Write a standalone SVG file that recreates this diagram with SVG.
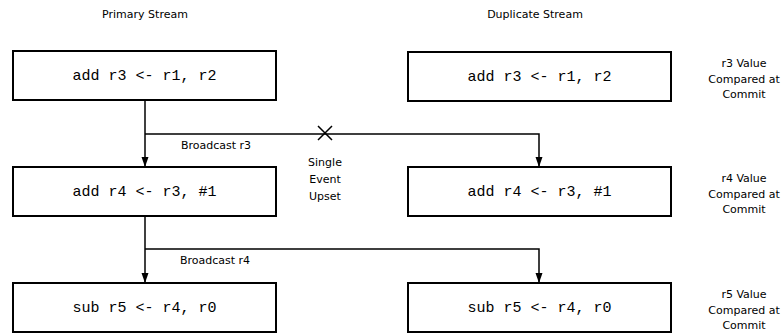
<svg xmlns="http://www.w3.org/2000/svg" width="784" height="334" viewBox="0 0 784 334">
  <style>
    .box { fill: #fff; stroke: #000; stroke-width: 2; }
    .code { font-family: "Liberation Mono", "Courier New", monospace; font-size: 15px; fill: #000; text-anchor: middle; }
    .lbl { font-family: "DejaVu Sans", "Liberation Sans", sans-serif; font-size: 11px; fill: #000; text-anchor: middle; }
    .wire { fill: none; stroke: #000; stroke-width: 1.5; }
  </style>
  <defs>
    <marker id="arrow" viewBox="0 0 10 10" refX="10" refY="5" markerWidth="10" markerHeight="10" markerUnits="userSpaceOnUse" orient="auto">
      <path d="M0,1.5 L10,5 L0,8.5 Z" fill="#000"/>
    </marker>
  </defs>

  <text class="lbl" x="145" y="18">Primary Stream</text>
  <text class="lbl" x="535" y="18">Duplicate Stream</text>

  <g id="p1">
    <rect class="box" x="13" y="51" width="263" height="49"/>
    <text class="code" x="144.5" y="80">add r3 &lt;- r1, r2</text>
  </g>
  <g id="p2">
    <rect class="box" x="13" y="167" width="263" height="49"/>
    <text class="code" x="144.5" y="196">add r4 &lt;- r3, #1</text>
  </g>
  <g id="p3">
    <rect class="box" x="13" y="283" width="263" height="49"/>
    <text class="code" x="144.5" y="312">sub r5 &lt;- r4, r0</text>
  </g>
  <g id="d1">
    <rect class="box" x="408" y="52" width="263" height="49"/>
    <text class="code" x="539.5" y="81">add r3 &lt;- r1, r2</text>
  </g>
  <g id="d2">
    <rect class="box" x="408" y="167" width="263" height="49"/>
    <text class="code" x="539.5" y="196">add r4 &lt;- r3, #1</text>
  </g>
  <g id="d3">
    <rect class="box" x="408" y="283" width="263" height="49"/>
    <text class="code" x="539.5" y="312">sub r5 &lt;- r4, r0</text>
  </g>

  <g id="cmp1">
    <text class="lbl" x="744" y="67">r3 Value</text>
    <text class="lbl" x="744" y="83">Compared at</text>
    <text class="lbl" x="744" y="98">Commit</text>
  </g>
  <g id="cmp2">
    <text class="lbl" x="744" y="182">r4 Value</text>
    <text class="lbl" x="744" y="198">Compared at</text>
    <text class="lbl" x="744" y="213">Commit</text>
  </g>
  <g id="cmp3">
    <text class="lbl" x="744" y="298">r5 Value</text>
    <text class="lbl" x="744" y="314">Compared at</text>
    <text class="lbl" x="744" y="329">Commit</text>
  </g>

  <g id="connectors">
    <path class="wire" d="M145,100 V167" marker-end="url(#arrow)"/>
    <path class="wire" d="M145,134 H539 V167" marker-end="url(#arrow)"/>
    <path class="wire" d="M145,216 V283" marker-end="url(#arrow)"/>
    <path class="wire" d="M145,249 H539 V283" marker-end="url(#arrow)"/>
    <path class="wire" d="M318,126 L332,140 M332,126 L318,140"/>
    <text class="lbl" x="216" y="149">Broadcast r3</text>
    <text class="lbl" x="215" y="264">Broadcast r4</text>
    <text class="lbl" x="325" y="166">Single</text>
    <text class="lbl" x="325" y="183">Event</text>
    <text class="lbl" x="325" y="200">Upset</text>
  </g>
</svg>
